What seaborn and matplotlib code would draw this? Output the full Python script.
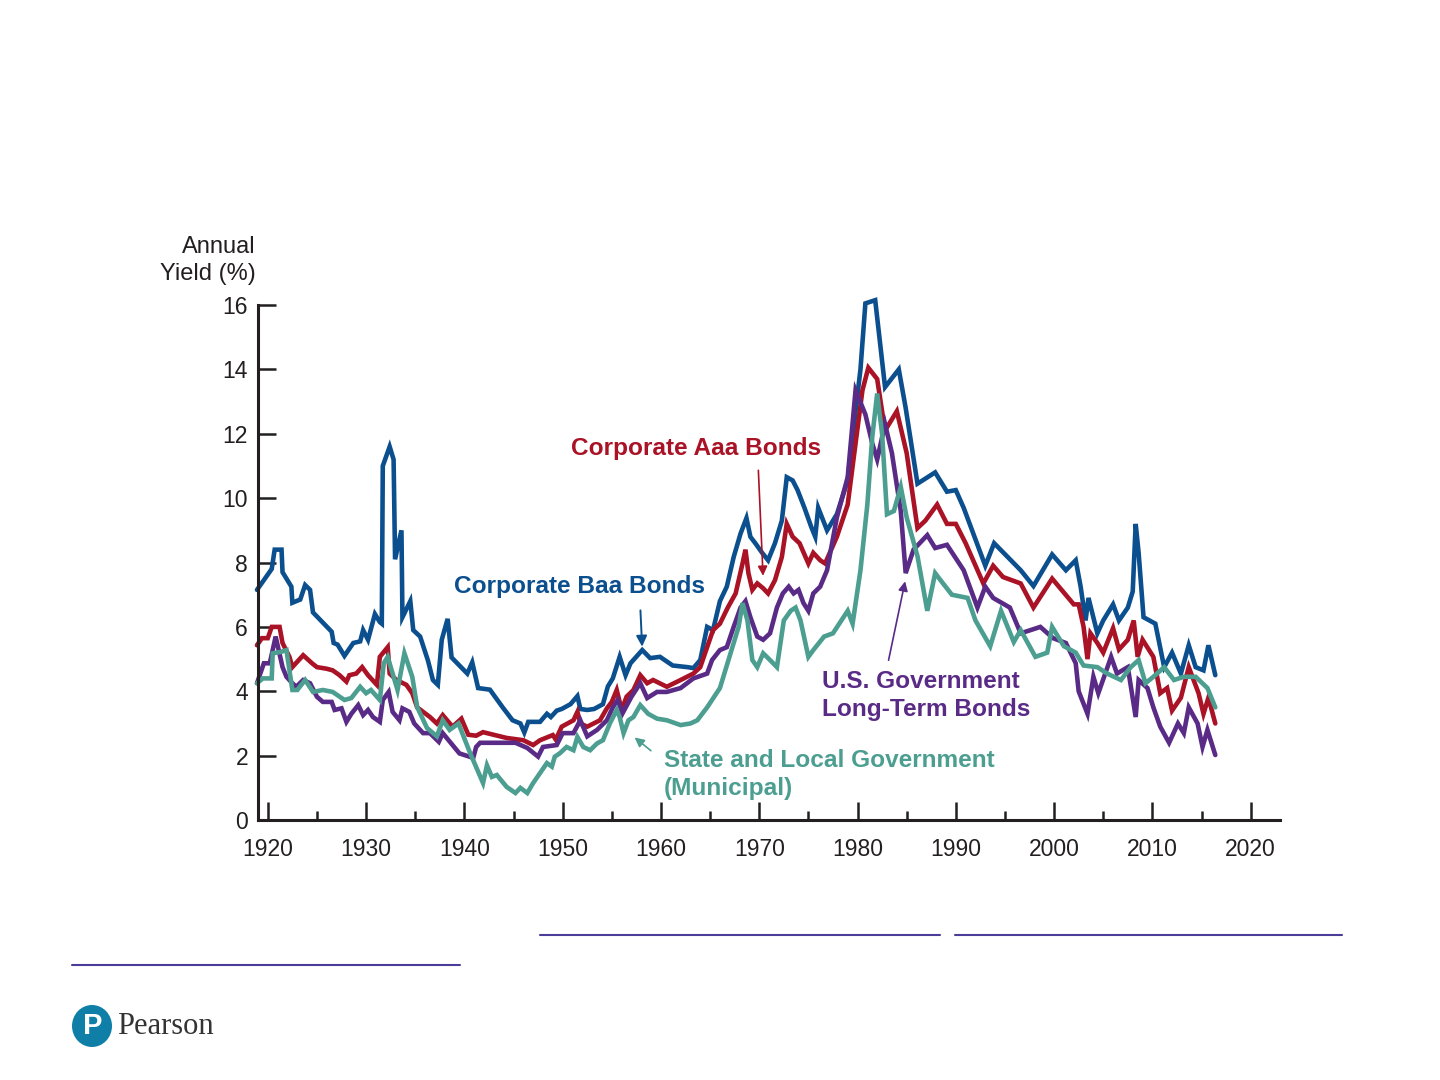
import matplotlib
matplotlib.use("Agg")
import matplotlib.pyplot as plt
from matplotlib.patches import Ellipse
from matplotlib.lines import Line2D
import seaborn as sns

# values (year, annual yield in %)
baa_years = [1918.9, 1920.4, 1920.7, 1921.4, 1921.5, 1922.4, 1922.5, 1923.3, 1923.8, 1924.3,
             1924.6, 1926.5, 1926.7, 1927.1, 1927.8, 1928.7, 1929.4, 1929.7, 1930.2, 1930.9,
             1931.4, 1931.6, 1931.7, 1932.4, 1932.8, 1932.95, 1933.6, 1933.7, 1934.5, 1934.8,
             1935.5, 1936.3, 1936.8, 1937.3, 1937.7, 1938.3, 1938.7, 1940.3, 1940.8, 1941.4,
             1942.6, 1943.9, 1944.9, 1945.7, 1946.1, 1946.5, 1947.7, 1948.4, 1948.8, 1949.4,
             1949.9, 1950.8, 1951.5, 1951.8, 1952.5, 1953.2, 1954.1, 1954.6, 1955.1, 1955.8,
             1956.4, 1956.9, 1958.1, 1958.9, 1959.9, 1961.2, 1962.7, 1963.3, 1964.0, 1964.7,
             1965.3, 1966.0, 1966.7, 1967.4, 1968.1, 1968.7, 1969.1, 1969.6, 1970.3, 1970.9,
             1971.6, 1972.3, 1972.8, 1973.4, 1973.9, 1974.6, 1975.3, 1975.7, 1976.0, 1976.9,
             1977.9, 1979.0, 1979.8, 1980.3, 1980.8, 1981.8, 1982.8, 1984.2, 1984.9, 1986.1,
             1987.9, 1989.1, 1990.0, 1990.8, 1993.0, 1993.9, 1996.6, 1997.9, 1999.8, 2001.2,
             2002.2, 2002.7, 2003.2, 2003.5, 2004.4, 2005.0, 2006.0, 2006.6, 2007.5, 2008.0,
             2008.3, 2008.6, 2009.1, 2010.3, 2011.2, 2012.0, 2012.9, 2013.7, 2014.4, 2015.2,
             2015.7, 2016.4]
baa_yield = [7.15, 7.8, 8.4, 8.4, 7.7, 7.25, 6.75, 6.85, 7.3, 7.15,
             6.45, 5.85, 5.5, 5.45, 5.1, 5.5, 5.55, 5.9, 5.6, 6.4,
             6.15, 6.1, 11.0, 11.6, 11.2, 8.1, 9.0, 6.3, 6.8, 5.9,
             5.7, 4.95, 4.35, 4.2, 5.6, 6.25, 5.05, 4.55, 4.9, 4.1,
             4.05, 3.5, 3.1, 3.0, 2.72, 3.05, 3.05, 3.3, 3.2, 3.4,
             3.45, 3.6, 3.85, 3.45, 3.42, 3.45, 3.6, 4.15, 4.4, 5.07,
             4.5, 4.87, 5.28, 5.03, 5.07, 4.8, 4.75, 4.72, 4.97, 6.0,
             5.9, 6.8, 7.25, 8.17, 8.9, 9.38, 8.8, 8.6, 8.3, 8.07,
             8.6, 9.3, 10.65, 10.55, 10.25, 9.7, 9.1, 8.8, 9.7, 9.0,
             9.5, 10.55, 12.7, 14.0, 16.05, 16.15, 13.45, 14.0, 12.8, 10.45,
             10.8, 10.2, 10.25, 9.7, 7.9, 8.6, 7.76, 7.27, 8.25, 7.76,
             8.07, 7.25, 6.2, 6.9, 5.8, 6.2, 6.7, 6.2, 6.6, 7.1,
             9.2, 8.3, 6.3, 6.1, 4.75, 5.2, 4.55, 5.43, 4.75, 4.65,
             5.43, 4.5]

aaa_years = [1918.9, 1919.4, 1920.0, 1920.4, 1921.2, 1921.5, 1922.2, 1922.5, 1923.6, 1924.5,
             1925.0, 1926.0, 1926.6, 1927.3, 1928.0, 1928.3, 1929.0, 1929.6, 1930.2, 1931.1,
             1931.4, 1932.2, 1932.4, 1933.1, 1934.1, 1934.7, 1935.2, 1936.5, 1937.2, 1937.8,
             1938.8, 1939.7, 1940.4, 1941.2, 1941.9, 1944.3, 1946.0, 1947.0, 1947.7, 1949.0,
             1949.3, 1949.9, 1951.1, 1951.5, 1951.8, 1952.5, 1953.8, 1954.5, 1955.0, 1955.5,
             1956.0, 1956.5, 1957.2, 1957.9, 1958.6, 1959.2, 1960.6, 1962.0, 1963.3, 1964.0,
             1964.7, 1965.3, 1966.0, 1966.8, 1967.6, 1968.3, 1968.6, 1968.9, 1969.3, 1969.8,
             1970.4, 1970.9, 1971.6, 1972.3, 1972.8, 1973.4, 1974.1, 1975.0, 1975.5, 1976.2,
             1976.7, 1977.9, 1979.0, 1979.8, 1980.5, 1981.1, 1982.0, 1982.8, 1984.0, 1985.0,
             1986.1, 1986.9, 1988.1, 1989.1, 1990.0, 1991.0, 1992.8, 1993.8, 1994.8, 1996.6,
             1997.9, 1999.8, 2002.0, 2002.5, 2003.0, 2003.4, 2003.7, 2004.4, 2005.0, 2006.0,
             2006.6, 2007.5, 2008.1, 2008.5, 2009.0, 2010.1, 2010.8, 2011.5, 2012.0, 2012.9,
             2013.7, 2014.7, 2015.2, 2015.7, 2016.4]
aaa_yield = [5.43, 5.65, 5.65, 6.0, 6.0, 5.5, 5.07, 4.75, 5.12, 4.87,
             4.75, 4.7, 4.65, 4.5, 4.3, 4.5, 4.55, 4.75, 4.5, 4.2,
             5.07, 5.37, 4.55, 4.35, 4.2, 3.94, 3.5, 3.2, 3.0, 3.26,
             2.9, 3.15, 2.65, 2.62, 2.73, 2.55, 2.48, 2.33, 2.48, 2.64,
             2.5, 2.9, 3.1, 3.36, 3.0, 2.9, 3.1, 3.47, 3.67, 4.04,
             3.42, 3.83, 4.04, 4.5, 4.25, 4.35, 4.14, 4.35, 4.55, 4.75,
             5.37, 5.9, 6.1, 6.6, 7.04, 7.97, 8.4, 7.67, 7.15, 7.35,
             7.2, 7.04, 7.45, 8.17, 9.2, 8.8, 8.6, 7.97, 8.3, 8.07,
             7.97, 8.8, 9.8, 11.7, 13.35, 14.05, 13.7, 12.1, 12.7, 11.4,
             9.07, 9.3, 9.8, 9.2, 9.2, 8.6, 7.35, 7.9, 7.55, 7.35,
             6.6, 7.5, 6.7, 6.7, 6.0, 5.0, 5.8, 5.5, 5.2, 5.96,
             5.3, 5.6, 6.2, 5.07, 5.6, 5.07, 3.94, 4.1, 3.4, 3.8,
             4.75, 3.94, 3.3, 3.8, 3.0]

gov_years = [1918.9, 1919.6, 1920.2, 1920.8, 1921.5, 1921.9, 1922.5, 1922.9, 1923.6, 1924.3,
             1925.0, 1925.6, 1926.5, 1926.8, 1927.5, 1928.0, 1928.5, 1929.2, 1929.7, 1930.2,
             1930.7, 1931.4, 1931.7, 1932.3, 1932.7, 1933.4, 1933.7, 1934.4, 1934.9, 1935.8,
             1936.5, 1937.0, 1937.4, 1937.8, 1939.5, 1940.9, 1941.2, 1941.6, 1945.2, 1946.4,
             1947.5, 1948.0, 1949.4, 1950.0, 1951.1, 1951.8, 1952.5, 1953.5, 1954.5, 1955.1,
             1955.6, 1956.1, 1957.0, 1957.9, 1958.6, 1959.6, 1960.6, 1962.0, 1963.3, 1964.7,
             1965.2, 1966.0, 1966.7, 1967.4, 1968.1, 1968.6, 1969.1, 1969.8, 1970.4, 1971.1,
             1971.8, 1972.4, 1973.0, 1973.5, 1974.0, 1974.5, 1975.0, 1975.5, 1976.2, 1976.9,
             1977.9, 1979.0, 1979.8, 1980.8, 1981.5, 1982.0, 1982.8, 1983.5, 1984.4, 1984.9,
             1985.7, 1987.1, 1987.9, 1989.1, 1990.8, 1992.2, 1993.0, 1993.8, 1995.5, 1996.6,
             1998.6, 1999.9, 2001.2, 2002.2, 2002.5, 2003.4, 2004.0, 2004.5, 2005.8, 2006.4,
             2007.5, 2008.3, 2008.6, 2009.5, 2010.1, 2010.8, 2011.7, 2012.6, 2013.2, 2013.7,
             2014.6, 2015.1, 2015.6, 2016.4]
gov_yield = [4.25, 4.87, 4.87, 5.7, 4.75, 4.45, 4.25, 4.14, 4.35, 4.25,
             3.83, 3.67, 3.67, 3.42, 3.47, 3.05, 3.3, 3.57, 3.26, 3.42,
             3.2, 3.05, 3.73, 3.98, 3.36, 3.1, 3.47, 3.36, 3.0, 2.7,
             2.7, 2.55, 2.43, 2.7, 2.07, 1.93, 2.27, 2.4, 2.4, 2.24,
             1.97, 2.27, 2.33, 2.7, 2.7, 3.1, 2.6, 2.8, 3.1, 3.5,
             3.73, 3.32, 3.83, 4.25, 3.79, 3.98, 3.98, 4.1, 4.4, 4.55,
             4.97, 5.28, 5.37, 6.0, 6.6, 6.8, 6.3, 5.7, 5.6, 5.8,
             6.6, 7.04, 7.25, 7.04, 7.15, 6.74, 6.5, 7.04, 7.25, 7.76,
             9.4, 10.65, 13.35, 12.6, 11.7, 11.2, 12.3, 11.4, 9.6, 7.67,
             8.4, 8.85, 8.45, 8.55, 7.76, 6.6, 7.25, 6.9, 6.6, 5.8,
             6.0, 5.65, 5.5, 4.87, 4.0, 3.3, 4.45, 3.94, 5.07, 4.55,
             4.75, 3.2, 4.35, 4.1, 3.5, 2.9, 2.4, 3.0, 2.7, 3.5,
             3.0, 2.27, 2.8, 2.02]

muni_years = [1918.9, 1919.5, 1920.4, 1920.5, 1921.3, 1921.9, 1922.5, 1923.0, 1923.8, 1924.6,
              1925.6, 1926.6, 1927.8, 1928.5, 1929.4, 1930.0, 1930.5, 1931.4, 1931.8, 1932.2,
              1933.2, 1933.9, 1934.7, 1935.2, 1936.2, 1937.2, 1937.8, 1938.5, 1939.4, 1940.6,
              1941.9, 1942.3, 1942.8, 1943.3, 1944.3, 1945.2, 1945.7, 1946.4, 1947.0, 1947.7,
              1948.4, 1948.9, 1949.2, 1949.7, 1950.4, 1951.1, 1951.5, 1952.1, 1952.8, 1953.5,
              1954.1, 1954.8, 1955.5, 1955.8, 1956.2, 1956.7, 1957.2, 1957.9, 1958.7, 1959.6,
              1960.6, 1962.0, 1963.0, 1963.7, 1964.7, 1966.0, 1967.0, 1967.9, 1968.3, 1968.8,
              1969.3, 1969.8, 1970.4, 1971.1, 1971.8, 1972.5, 1973.2, 1973.7, 1974.2, 1975.0,
              1975.5, 1976.6, 1977.5, 1979.0, 1979.5, 1980.3, 1981.0, 1981.5, 1982.0, 1982.5,
              1983.0, 1983.7, 1984.4, 1985.0, 1986.1, 1987.1, 1987.9, 1988.7, 1989.6, 1991.2,
              1992.0, 1993.5, 1994.6, 1995.9, 1996.6, 1998.1, 1999.3, 1999.8, 2001.0, 2002.2,
              2003.0, 2004.4, 2005.4, 2006.8, 2007.8, 2008.6, 2009.3, 2010.1, 2011.2, 2012.2,
              2013.2, 2014.4, 2015.6, 2016.4]
muni_yield = [4.25, 4.4, 4.4, 5.18, 5.22, 5.28, 4.04, 4.04, 4.35, 3.98,
              4.04, 3.98, 3.73, 3.79, 4.14, 3.94, 4.04, 3.73, 4.87, 5.07,
              4.04, 5.18, 4.45, 3.51, 2.86, 2.6, 3.1, 2.8, 3.0, 2.07,
              1.15, 1.7, 1.34, 1.4, 1.03, 0.84, 1.0, 0.84, 1.15, 1.46,
              1.77, 1.66, 1.97, 2.07, 2.27, 2.17, 2.58, 2.27, 2.17, 2.38,
              2.48, 3.0, 3.42, 3.2, 2.7, 3.1, 3.2, 3.57, 3.3, 3.15,
              3.1, 2.95, 3.0, 3.1, 3.5, 4.1, 5.1, 6.0, 6.74, 6.2,
              4.97, 4.75, 5.18, 4.97, 4.75, 6.2, 6.5, 6.6, 6.2, 5.07,
              5.28, 5.7, 5.8, 6.5, 6.1, 7.76, 9.8, 11.9, 13.25, 12.0,
              9.5, 9.6, 10.35, 9.4, 8.2, 6.5, 7.67, 7.35, 7.0, 6.9,
              6.2, 5.4, 6.5, 5.53, 5.9, 5.07, 5.2, 6.0, 5.4, 5.2,
              4.8, 4.75, 4.55, 4.35, 4.75, 4.97, 4.25, 4.45, 4.75, 4.35,
              4.45, 4.45, 4.1, 3.5]

decade_ticks = list(range(1920, 2021, 10))
minor_ticks = list(range(1925, 2016, 10))
yield_ticks = list(range(0, 17, 2))

BLUE = "#0b4f8e"
RED = "#aa1226"
PURPLE = "#5a2b86"
TEAL = "#4b9e90"
INK = "#231f20"

sns.set_style("ticks")
plt.rcParams["font.family"] = ["Liberation Sans", "DejaVu Sans"]

fig = plt.figure(figsize=(14.4, 10.8), dpi=100)
ax = fig.add_axes([0.179, 0.2407, 0.710, 0.4769])

lw = 3.3
sns.lineplot(x=baa_years, y=baa_yield, ax=ax, color=BLUE, lw=lw, estimator=None, sort=False)
sns.lineplot(x=aaa_years, y=aaa_yield, ax=ax, color=RED, lw=lw, estimator=None, sort=False)
sns.lineplot(x=gov_years, y=gov_yield, ax=ax, color=PURPLE, lw=lw, estimator=None, sort=False)
sns.lineplot(x=muni_years, y=muni_yield, ax=ax, color=TEAL, lw=lw, estimator=None, sort=False)
for line in ax.get_lines():
    line.set_clip_on(False)
    line.set_solid_joinstyle("miter")

ax.set_xlim(1918.98, 2023.0)
ax.set_ylim(0, 16)
ax.set_xlabel("")
ax.set_ylabel("")
sns.despine(ax=ax)
for side in ("left", "bottom"):
    ax.spines[side].set_linewidth(2.2)
    ax.spines[side].set_color(INK)

ax.set_xticks(decade_ticks)
ax.set_xticks(minor_ticks, minor=True)
ax.set_yticks(yield_ticks)
ax.tick_params(axis="both", which="major", direction="in", length=13, width=1.8,
               color=INK, labelsize=16.5, labelcolor=INK, bottom=True, left=True)
ax.tick_params(axis="x", which="major", pad=13)
ax.tick_params(axis="y", which="major", pad=7)
ax.tick_params(axis="x", which="minor", direction="in", length=6.5, width=1.8,
               color=INK, bottom=True)

fig.text(256 / 1440, 1 - 236 / 1080, "Annual\nYield (%)", ha="right", va="top",
         fontsize=17, color=INK, linespacing=1.3, multialignment="right")

bold = dict(fontsize=17.6, fontweight="bold")
ax.text(1951.7, 7.24, "Corporate Baa Bonds", ha="center", va="center", color=BLUE, **bold)
ax.annotate("", xy=(1958.1, 5.3), xytext=(1957.9, 6.6),
            arrowprops=dict(arrowstyle="-|>", color=BLUE, lw=1.4, mutation_scale=16))

ax.text(1963.6, 11.55, "Corporate Aaa Bonds", ha="center", va="center", color=RED, **bold)
ax.annotate("", xy=(1970.4, 7.5), xytext=(1969.9, 10.95),
            arrowprops=dict(arrowstyle="-|>", color=RED, lw=1.2, mutation_scale=14))

ax.text(1976.4, 3.87, "U.S. Government\nLong-Term Bonds", ha="left", va="center",
        color=PURPLE, linespacing=1.25, **bold)
ax.annotate("", xy=(1984.9, 7.5), xytext=(1983.1, 4.88),
            arrowprops=dict(arrowstyle="-|>", color=PURPLE, lw=1.2, mutation_scale=14))

ax.text(1960.3, 1.41, "State and Local Government\n(Municipal)", ha="left", va="center",
        color=TEAL, linespacing=1.25, **bold)
ax.annotate("", xy=(1957.1, 2.62), xytext=(1959.2, 2.1),
            arrowprops=dict(arrowstyle="-|>", color=TEAL, lw=1.2, mutation_scale=14))

# slide footer rules and logo
rule = "#4a3c98"
for x0, x1, y in [(540, 940, 935), (955, 1342, 935), (72, 460, 965)]:
    fig.add_artist(Line2D([x0 / 1440, x1 / 1440], [1 - y / 1080, 1 - y / 1080],
                          color=rule, lw=1.5, transform=fig.transFigure))

fig.add_artist(Ellipse((92 / 1440, 1 - 1026 / 1080), 40 / 1440, 42 / 1080,
                       transform=fig.transFigure, facecolor="#0f7fa8", edgecolor="none"))
fig.text(93 / 1440, 1 - 1026 / 1080, "P", ha="center", va="center", color="white",
         fontsize=21, fontweight="bold")
fig.text(117 / 1440, 1 - 1026 / 1080, "Pearson", ha="left", va="center", color="#333333",
         fontsize=22, family=["Liberation Serif", "DejaVu Serif"])

fig.savefig("out.png", dpi=100)
